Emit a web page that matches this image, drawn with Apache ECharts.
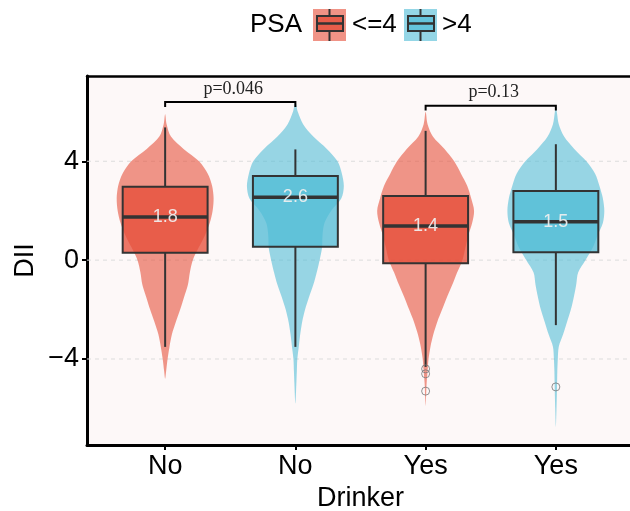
<!DOCTYPE html>
<html>
<head>
<meta charset="utf-8">
<script src="https://cdn.jsdelivr.net/npm/echarts@6/dist/echarts.min.js"></script>
<style>html,body{margin:0;padding:0;background:#fff}#chart{width:630px;height:511px}</style>
</head>
<body>
<div id="chart"></div>
<script>
// ---------------- data ----------------
const categories = ['No', 'No', 'Yes', 'Yes'];
const psaGroupOfBox = [0, 1, 0, 1];
const psaLevels = ['<=4', '>4'];
const yTicks = [-4, 0, 4];
const xTicks = [0, 1, 2, 3];

const boxLowerWhisker = [-3.51, -3.51, -4.32, -2.63];
const boxQ1 = [0.30, 0.54, -0.13, 0.32];
const boxMedian = [1.75, 2.54, 1.38, 1.55];
const boxQ3 = [2.97, 3.40, 2.59, 2.80];
const boxUpperWhisker = [5.37, 4.48, 5.23, 4.69];
const medianLabels = ['1.8', '2.6', '1.4', '1.5'];

const outlierBox = [2, 2, 2, 3];
const outlierValue = [-4.4, -4.6, -5.3, -5.13];

// violin density profiles: [DII value, relative width]
const violinNoLow = [[5.9,0],[5.5,0.03],[5.0,0.12],[4.5,0.38],[4.0,0.70],[3.5,0.88],[3.0,0.97],[2.5,1.0],[2.0,0.98],[1.5,0.92],[1.0,0.82],[0.5,0.69],[0.0,0.57],[-0.5,0.51],[-1.0,0.47],[-1.5,0.39],[-2.0,0.31],[-2.5,0.22],[-3.0,0.14],[-3.5,0.09],[-4.0,0.05],[-4.5,0.02],[-4.8,0]];
const violinNoHigh = [[6.4,0],[6.0,0.05],[5.5,0.16],[5.0,0.37],[4.5,0.65],[4.0,0.87],[3.5,0.96],[3.0,1.0],[2.5,0.95],[2.0,0.74],[1.5,0.60],[1.0,0.56],[0.5,0.55],[0.0,0.50],[-0.5,0.44],[-1.0,0.37],[-1.5,0.28],[-2.0,0.20],[-2.5,0.14],[-3.0,0.10],[-3.5,0.07],[-4.0,0.04],[-4.5,0.03],[-5.0,0.02],[-5.8,0]];
const violinYesLow = [[6.0,0],[5.5,0.04],[5.0,0.15],[4.5,0.39],[4.0,0.59],[3.5,0.73],[3.0,0.86],[2.5,0.94],[2.0,1.0],[1.5,0.96],[1.0,0.88],[0.5,0.82],[0.0,0.76],[-0.5,0.65],[-1.0,0.55],[-1.5,0.44],[-2.0,0.34],[-2.5,0.24],[-3.0,0.16],[-3.5,0.10],[-4.0,0.06],[-4.5,0.04],[-5.0,0.02],[-5.5,0.01],[-5.9,0]];
const violinYesHigh = [[6.25,0],[6.0,0.02],[5.5,0.06],[5.0,0.17],[4.5,0.38],[4.0,0.63],[3.5,0.81],[3.0,0.90],[2.5,0.97],[2.0,1.0],[1.5,0.97],[1.0,0.86],[0.5,0.76],[0.0,0.61],[-0.5,0.46],[-1.0,0.42],[-1.5,0.37],[-2.0,0.31],[-2.5,0.23],[-3.0,0.15],[-3.5,0.06],[-4.0,0.04],[-4.5,0.03],[-5.0,0.025],[-5.5,0.02],[-6.0,0.013],[-6.75,0]];
const violinProfiles = [violinNoLow, violinNoHigh, violinYesLow, violinYesHigh];

const bracketFrom = [0, 2];
const bracketTo = [1, 3];
const bracketHeight = [6.4, 6.25];
const bracketLabels = ['p=0.046', 'p=0.13'];

// ---------------- styling ----------------
const SANS = 'Liberation Sans, Arial, Helvetica, sans-serif';
const SERIF = 'Liberation Serif, Times New Roman, serif';
const VIOLIN_HALF = 0.372;
const BOX_HALF = 0.326;
const violinFill = ['rgba(230,75,53,0.58)', 'rgba(77,187,213,0.58)'];
const boxFill = ['rgba(230,75,53,0.75)', 'rgba(77,187,213,0.75)'];
const legendKeyFill = ['rgba(230,75,53,0.6)', 'rgba(77,187,213,0.6)'];
const legendBoxFill = ['rgb(232,93,74)', 'rgb(100,196,220)'];
const INK = '#333333';

const chart = echarts.init(document.getElementById('chart'), null, {renderer: 'canvas'});

function renderGrid(params, api) {
  const cs = params.coordSys;
  const y = api.coord([0, api.value(1)])[1];
  return {type: 'line', silent: true,
    shape: {x1: cs.x, y1: y, x2: cs.x + cs.width, y2: y},
    style: {stroke: '#DCDCDC', lineWidth: 1, lineDash: [4, 4]}};
}

function renderViolin(params, api) {
  const i = api.value(0);
  const prof = violinProfiles[i];
  const right = prof.map(p => api.coord([i + p[1] * VIOLIN_HALF, p[0]]));
  const left = prof.slice(1, -1).reverse().map(p => api.coord([i - p[1] * VIOLIN_HALF, p[0]]));
  return {type: 'polygon', silent: true,
    shape: {points: right.concat(left), smooth: 0.3},
    style: {fill: violinFill[psaGroupOfBox[i]]}};
}

function renderBox(params, api) {
  const i = api.value(0);
  const xc = api.coord([i, 0])[0];
  const xl = api.coord([i - BOX_HALF, 0])[0];
  const xr = api.coord([i + BOX_HALF, 0])[0];
  const yLo = api.coord([i, api.value(1)])[1];
  const yQ1 = api.coord([i, api.value(2)])[1];
  const yMed = api.coord([i, api.value(3)])[1];
  const yQ3 = api.coord([i, api.value(4)])[1];
  const yHi = api.coord([i, api.value(5)])[1];
  return {type: 'group', silent: true, children: [
    {type: 'line', shape: {x1: xc, y1: yQ1, x2: xc, y2: yLo}, style: {stroke: INK, lineWidth: 2}},
    {type: 'line', shape: {x1: xc, y1: yQ3, x2: xc, y2: yHi}, style: {stroke: INK, lineWidth: 2}},
    {type: 'rect', shape: {x: xl, y: yQ3, width: xr - xl, height: yQ1 - yQ3},
      style: {fill: boxFill[psaGroupOfBox[i]], stroke: INK, lineWidth: 2}},
    {type: 'line', shape: {x1: xl, y1: yMed, x2: xr, y2: yMed}, style: {stroke: INK, lineWidth: 3.5}},
    {type: 'text', x: xc, y: yMed, style: {text: medianLabels[i], fill: 'rgba(240,240,240,0.92)',
      font: '18px ' + SANS, align: 'center', verticalAlign: 'middle'}}
  ]};
}

function renderBracket(params, api) {
  const x1 = api.value(0), x2 = api.value(1), h = api.value(2);
  const drop = 0.2;
  const pA = api.coord([x1, h - drop]);
  const pB = api.coord([x1, h]);
  const pC = api.coord([x2, h]);
  const pD = api.coord([x2, h - drop]);
  return {type: 'group', silent: true, children: [
    {type: 'polyline', shape: {points: [pA, pB, pC, pD]}, style: {stroke: '#000', lineWidth: 2, fill: null}},
    {type: 'text', x: (pB[0] + pC[0]) / 2 + 3, y: pB[1] - 4,
      style: {text: bracketLabels[params.dataIndex], fill: '#222', font: '18px ' + SERIF,
        align: 'center', verticalAlign: 'bottom'}}
  ]};
}

// legend built from psaLevels (absolute positions)
const legendChildren = [
  {type: 'text', x: 250, y: 25, style: {text: 'PSA', font: '26px ' + SANS, fill: '#000', verticalAlign: 'middle'}}
];
const legendKeyX = [313, 404];
const legendTextX = [352, 442];
psaLevels.forEach((lv, k) => {
  const x = legendKeyX[k];
  legendChildren.push(
    {type: 'rect', shape: {x: x, y: 9, width: 33, height: 32}, style: {fill: legendKeyFill[k]}},
    {type: 'line', shape: {x1: x + 16.5, y1: 9, x2: x + 16.5, y2: 16}, style: {stroke: INK, lineWidth: 2}},
    {type: 'line', shape: {x1: x + 16.5, y1: 31, x2: x + 16.5, y2: 41}, style: {stroke: INK, lineWidth: 2}},
    {type: 'rect', shape: {x: x + 4, y: 16, width: 26, height: 15}, style: {fill: legendBoxFill[k], stroke: INK, lineWidth: 2}},
    {type: 'line', shape: {x1: x + 4, y1: 23.5, x2: x + 30, y2: 23.5}, style: {stroke: INK, lineWidth: 2.5}},
    {type: 'text', x: legendTextX[k], y: 25, style: {text: lv, font: '26px ' + SANS, fill: '#000', verticalAlign: 'middle'}}
  );
});

const option = {
  backgroundColor: '#ffffff',
  animation: false,
  grid: {left: 87, right: -4, top: 76, bottom: 66, show: true, backgroundColor: '#FDF8F8', borderWidth: 0,
    containLabel: false, outerBoundsMode: 'none'},
  xAxis: [{
    type: 'value', min: -0.6, max: 3.6, position: 'bottom',
    axisLine: {show: true, onZero: false, lineStyle: {color: '#000', width: 3}},
    axisTick: {show: true, customValues: xTicks, length: 5, lineStyle: {color: '#000', width: 2}},
    axisLabel: {show: true, customValues: xTicks, formatter: v => categories[Math.round(v)],
      fontSize: 27, fontFamily: SANS, color: '#000', margin: 8},
    splitLine: {show: false},
    name: 'Drinker', nameLocation: 'middle', nameGap: 40, nameMoveOverlap: false,
    nameTextStyle: {fontSize: 27, fontFamily: SANS, color: '#000'}
  }, {
    type: 'value', min: -0.6, max: 3.6, position: 'top',
    axisLine: {show: true, onZero: false, lineStyle: {color: '#000', width: 2.5}},
    axisTick: {show: false}, axisLabel: {show: false}, splitLine: {show: false}
  }],
  yAxis: {
    type: 'value', min: -7.48, max: 7.45,
    axisLine: {show: true, onZero: false, lineStyle: {color: '#000', width: 3}},
    axisTick: {show: true, customValues: yTicks, length: 5, lineStyle: {color: '#000', width: 2}},
    axisLabel: {show: true, customValues: yTicks, formatter: v => (v < 0 ? '\u2212' + Math.abs(v) : String(v)),
      fontSize: 27, fontFamily: SANS, color: '#000', margin: 8},
    splitLine: {show: false},
    name: 'DII', nameLocation: 'middle', nameGap: 48, nameMoveOverlap: false,
    nameTextStyle: {fontSize: 27, fontFamily: SANS, color: '#000'}
  },
  series: [
    {type: 'custom', name: 'grid', xAxisIndex: 0, z: 1, renderItem: renderGrid,
      data: yTicks.map(v => [0, v]), silent: true, clip: false},
    {type: 'custom', name: 'violin', xAxisIndex: 0, z: 2, renderItem: renderViolin,
      data: categories.map((c, i) => [i]), encode: {x: 0}, silent: true, clip: false},
    {type: 'custom', name: 'box', xAxisIndex: 0, z: 3, renderItem: renderBox,
      data: categories.map((c, i) => [i, boxLowerWhisker[i], boxQ1[i], boxMedian[i], boxQ3[i], boxUpperWhisker[i]]),
      encode: {x: 0, y: [1, 2, 3, 4, 5]}, silent: true, clip: false},
    {type: 'scatter', name: 'outliers', xAxisIndex: 0, z: 4,
      data: outlierBox.map((b, k) => [b, outlierValue[k]]),
      symbol: 'circle', symbolSize: 8,
      itemStyle: {color: 'rgba(0,0,0,0)', borderColor: '#777', borderWidth: 1}, silent: true},
    {type: 'custom', name: 'brackets', xAxisIndex: 0, z: 5, renderItem: renderBracket,
      data: bracketFrom.map((f, k) => [f, bracketTo[k], bracketHeight[k]]),
      encode: {x: [0, 1], y: 2}, silent: true, clip: false}
  ],
  graphic: [{type: 'group', x: 0, y: 0, children: legendChildren}]
};
chart.setOption(option);
</script>
</body>
</html>
